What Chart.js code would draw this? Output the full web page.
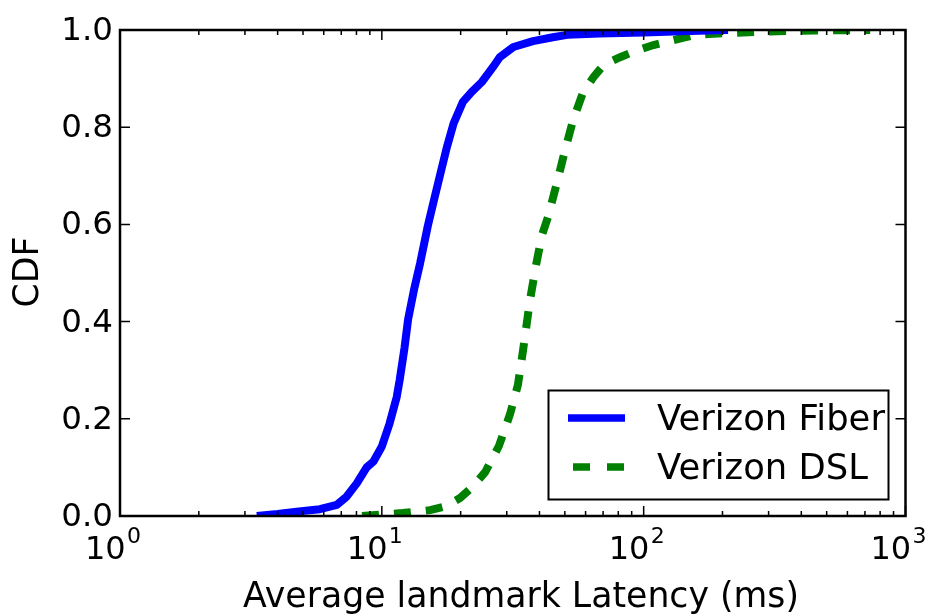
<!DOCTYPE html>
<html>
<head>
<meta charset="utf-8">
<title>Average landmark latency CDF</title>
<script src="https://cdn.jsdelivr.net/npm/chart.js@4/dist/chart.umd.min.js"></script>
<style>
  html, body { margin: 0; padding: 0; background: #ffffff; }
  #wrap { width: 932px; height: 614px; }
</style>
</head>
<body>
<div id="wrap"><canvas id="cdf" width="932" height="614"></canvas></div>
<script>
// Latency (ms) and cumulative fraction for each access technology
const fiberLatency = [3.33, 4.0, 4.73, 5.8, 6.73, 7.34, 8.02, 8.75, 9.29, 10.0, 10.7, 11.4, 11.7, 12.2, 12.6, 13.3, 14.0, 15.0, 15.9, 16.8, 17.7, 18.8, 19.4, 20.4, 22.0, 24.1, 26.6, 28.2, 31.8, 37.8, 45, 51, 68, 100, 150, 210];
const fiberCdf     = [0.000, 0.004, 0.009, 0.014, 0.023, 0.040, 0.067, 0.100, 0.112, 0.143, 0.190, 0.245, 0.280, 0.345, 0.405, 0.468, 0.520, 0.598, 0.655, 0.708, 0.758, 0.808, 0.825, 0.852, 0.872, 0.893, 0.924, 0.944, 0.965, 0.977, 0.985, 0.990, 0.993, 0.995, 0.998, 1.000];

const dslLatency = [8.4, 10.0, 12.0, 15.3, 17.5, 19.9, 22.0, 24.8, 28.0, 30.9, 33.1, 34.6, 36.8, 38.8, 40.9, 43.1, 46.6, 50.1, 53.8, 58.7, 64.3, 70.3, 81.3, 91, 109, 141, 158, 213, 300, 450, 733];
const dslCdf     = [0.000, 0.003, 0.006, 0.012, 0.020, 0.037, 0.058, 0.090, 0.144, 0.210, 0.270, 0.340, 0.444, 0.516, 0.578, 0.615, 0.685, 0.753, 0.815, 0.872, 0.903, 0.928, 0.944, 0.955, 0.969, 0.984, 0.990, 0.994, 0.997, 0.999, 1.000];

const seriesNames = ['Verizon Fiber', 'Verizon DSL'];

// Axis ticks
const xMajorTicks = [1, 10, 100, 1000];
const xTickBase = '10';
const xTickExponents = ['0', '1', '2', '3'];
const xMinorMultipliers = [2, 3, 4, 5, 6, 7, 8, 9];
const yTicks = [0, 0.2, 0.4, 0.6, 0.8, 1.0];
const yTickLabels = ['0.0', '0.2', '0.4', '0.6', '0.8', '1.0'];

const xTitle = 'Average landmark Latency (ms)';
const yTitle = 'CDF';

const FONT = '"DejaVu Sans", "Liberation Sans", sans-serif';

function toPoints(xs, ys) {
  return xs.map((v, i) => ({ x: v, y: ys[i] }));
}

// Axes frame, inward ticks, tick labels, titles and legend
const axesDecor = {
  id: 'axesDecor',
  afterDatasetsDraw(chart) {
    const { ctx, chartArea: a, scales } = chart;
    const xs = scales.x, ys = scales.y;
    ctx.save();
    ctx.strokeStyle = '#000';
    ctx.lineCap = 'butt';

    // x ticks (major and minor) on bottom and top edges
    ctx.lineWidth = 1.5;
    const xTickList = [];
    xMajorTicks.forEach(v => xTickList.push({ v, len: 10 }));
    xMajorTicks.slice(0, -1).forEach(d => xMinorMultipliers.forEach(m => xTickList.push({ v: d * m, len: 5 })));
    xTickList.forEach(t => {
      const px = xs.getPixelForValue(t.v);
      ctx.beginPath();
      ctx.moveTo(px, a.bottom); ctx.lineTo(px, a.bottom - t.len);
      ctx.moveTo(px, a.top); ctx.lineTo(px, a.top + t.len);
      ctx.stroke();
    });
    // y ticks on left and right edges
    yTicks.forEach(v => {
      const py = ys.getPixelForValue(v);
      ctx.beginPath();
      ctx.moveTo(a.left, py); ctx.lineTo(a.left + 10, py);
      ctx.moveTo(a.right, py); ctx.lineTo(a.right - 10, py);
      ctx.stroke();
    });

    // frame
    ctx.lineWidth = 2.5;
    ctx.strokeRect(a.left, a.top, a.right - a.left, a.bottom - a.top);

    // y tick labels
    ctx.fillStyle = '#000';
    ctx.font = '32.5px ' + FONT;
    ctx.textAlign = 'right';
    ctx.textBaseline = 'alphabetic';
    yTicks.forEach((v, i) => {
      const py = ys.getPixelForValue(v);
      ctx.fillText(yTickLabels[i], a.left - 7, py + 10);
    });

    // x tick labels as powers of ten
    ctx.textAlign = 'left';
    xMajorTicks.forEach((v, i) => {
      const px = xs.getPixelForValue(v);
      const start = px - 35;
      ctx.font = '32px ' + FONT;
      ctx.fillText(xTickBase, start, a.bottom + 43);
      ctx.font = '22px ' + FONT;
      ctx.fillText(xTickExponents[i], start + 42, a.bottom + 27);
    });

    // axis titles
    ctx.font = '34.7px ' + FONT;
    ctx.textAlign = 'center';
    ctx.fillText(xTitle, 521, 607);
    ctx.save();
    ctx.translate(38, (a.top + a.bottom) / 2 - 1);
    ctx.rotate(-Math.PI / 2);
    ctx.fillText(yTitle, 0, 0);
    ctx.restore();

    // legend
    const box = { x: 548.5, y: 390.5, w: 340, h: 109 };
    ctx.fillStyle = '#fff';
    ctx.fillRect(box.x, box.y, box.w, box.h);
    ctx.lineWidth = 2;
    ctx.strokeStyle = '#000';
    ctx.strokeRect(box.x, box.y, box.w, box.h);
    const rows = [418, 467];
    chart.data.datasets.forEach((ds, i) => {
      const ry = rows[i];
      ctx.save();
      ctx.strokeStyle = ds.borderColor;
      ctx.lineWidth = ds.borderWidth - 0.5;
      ctx.lineCap = 'butt';
      if (ds.borderDash && ds.borderDash.length) {
        ctx.setLineDash([17, 17]);
        ctx.lineDashOffset = 29;
      }
      ctx.beginPath();
      ctx.moveTo(568, ry); ctx.lineTo(625, ry);
      ctx.stroke();
      ctx.restore();
      ctx.fillStyle = '#000';
      ctx.font = '35.4px ' + FONT;
      ctx.textAlign = 'left';
      ctx.fillText(ds.label, 657, ry + 12);
    });
    ctx.restore();
  }
};

new Chart(document.getElementById('cdf'), {
  type: 'line',
  data: {
    datasets: [
      {
        label: seriesNames[0],
        data: toPoints(fiberLatency, fiberCdf),
        borderColor: '#0000ff',
        borderWidth: 8,
        borderJoinStyle: 'round',
        borderCapStyle: 'butt',
        pointRadius: 0,
        tension: 0,
        fill: false,
        clip: 0
      },
      {
        label: seriesNames[1],
        data: toPoints(dslLatency, dslCdf),
        borderColor: '#008000',
        borderWidth: 8,
        borderDash: [17, 15],
        borderJoinStyle: 'miter',
        borderCapStyle: 'butt',
        pointRadius: 0,
        tension: 0,
        fill: false,
        clip: 0
      }
    ]
  },
  options: {
    responsive: false,
    animation: false,
    devicePixelRatio: 1,
    layout: { padding: { left: 120, top: 30, right: 26.5, bottom: 98 } },
    plugins: {
      legend: { display: false },
      tooltip: { enabled: false },
      title: { display: false }
    },
    scales: {
      x: { type: 'logarithmic', min: 1, max: 1000, display: false },
      y: { type: 'linear', min: 0, max: 1, display: false }
    }
  },
  plugins: [axesDecor]
});
</script>
</body>
</html>
